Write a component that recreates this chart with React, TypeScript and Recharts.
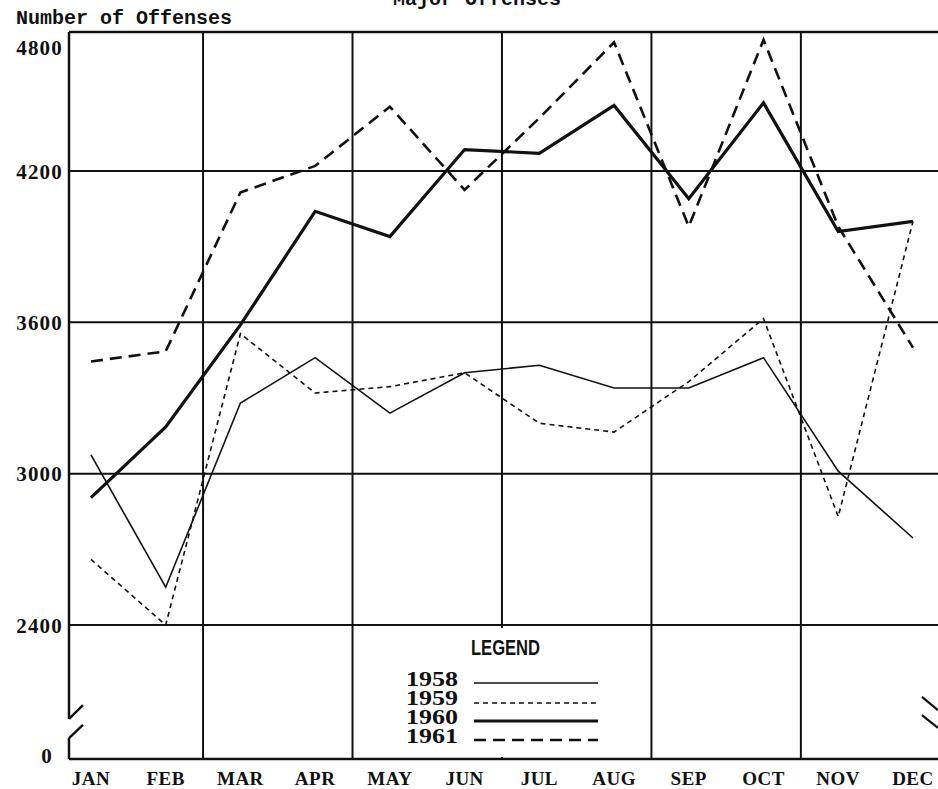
import React from 'react';
import { LineChart, Line, XAxis, YAxis, ReferenceLine, Legend } from 'recharts';

// ---- data ----
const months = ['JAN', 'FEB', 'MAR', 'APR', 'MAY', 'JUN', 'JUL', 'AUG', 'SEP', 'OCT', 'NOV', 'DEC'];
const offenses1958 = [3075, 2550, 3280, 3460, 3240, 3400, 3430, 3340, 3340, 3460, 3010, 2745];
const offenses1959 = [2660, 2400, 3555, 3320, 3345, 3400, 3200, 3165, 3365, 3615, 2830, 4000];
const offenses1960 = [2905, 3185, 3590, 4040, 3940, 4285, 4270, 4460, 4090, 4470, 3960, 4000];
const offenses1961 = [3445, 3485, 4115, 4220, 4455, 4125, 4410, 4710, 3980, 4720, 3980, 3500];

// broken y axis: the bottom of the plot stands for 0
const Y_FLOOR = 1869;
const Y_TOP = 4751;
const yTickValues = [Y_FLOOR, 2400, 3000, 3600, 4200, 4691];
const yTickLabels = ['0', '2400', '3000', '3600', '4200', '4800'];
const yGridValues = [2400, 3000, 3600, 4200];

const X_MIN = -0.294;
const X_MAX = 11.335;
const xDividers = [1.5, 3.5, 5.5, 7.5, 9.5];

const data = months.map((m, i) => ({
  idx: i,
  month: m,
  y1958: offenses1958[i],
  y1959: offenses1959[i],
  y1960: offenses1960[i],
  y1961: offenses1961[i],
}));

const series = [
  { key: 'y1958', name: '1958', width: 1.6, dash: undefined as string | undefined },
  { key: 'y1959', name: '1959', width: 1.6, dash: '5 4' },
  { key: 'y1960', name: '1960', width: 3.2, dash: undefined },
  { key: 'y1961', name: '1961', width: 2.6, dash: '12 7' },
];

const INK = '#111';

const YTick = (props: any) => {
  const { x, y, payload } = props;
  const i = yTickValues.indexOf(payload.value);
  const label = yTickLabels[i] ?? '';
  const isZero = label === '0';
  return (
    <text
      x={isZero ? x - 10 : x}
      y={isZero ? y - 4 : y}
      dy="0.36em"
      textAnchor="end"
      fill={INK}
      style={{ fontFamily: '"Liberation Serif", serif', fontWeight: 700, fontSize: 21, letterSpacing: 1.2 }}
    >
      {label}
    </text>
  );
};

const XTick = (props: any) => {
  const { x, y, payload } = props;
  return (
    <text
      x={x}
      y={y}
      dy={26}
      textAnchor="middle"
      fill={INK}
      style={{ fontFamily: '"Liberation Serif", serif', fontWeight: 700, fontSize: 19, letterSpacing: 0.5 }}
    >
      {months[payload.value]}
    </text>
  );
};

const LegendBox = () => {
  const rowBase = [58, 77, 96, 115];
  const rowLine = [55, 75, 93, 112];
  return (
    <svg width={288} height={129} style={{ display: 'block' }}>
      <rect x={0} y={0} width={288} height={129} fill="#fff" />
      <text
        x={109}
        y={27}
        textLength={69}
        lengthAdjust="spacingAndGlyphs"
        fill={INK}
        style={{ fontFamily: '"Liberation Sans", sans-serif', fontWeight: 700, fontSize: 22 }}
      >
        LEGEND
      </text>
      {series.map((s, i) => (
        <g key={s.key}>
          <text
            x={44}
            y={rowBase[i]}
            textLength={52}
            lengthAdjust="spacingAndGlyphs"
            fill={INK}
            style={{ fontFamily: '"Liberation Serif", serif', fontWeight: 700, fontSize: 20 }}
          >
            {s.name}
          </text>
          <line
            x1={112}
            x2={236}
            y1={rowLine[i]}
            y2={rowLine[i]}
            stroke={INK}
            strokeWidth={s.width}
            strokeDasharray={s.dash}
          />
        </g>
      ))}
    </svg>
  );
};

export default function App() {
  const gridStroke = 2;
  return (
    <div
      style={{
        position: 'absolute',
        left: 0,
        top: 0,
        width: 938,
        height: 789,
        overflow: 'hidden',
        background: '#fff',
      }}
    >
      <svg width={938} height={60} style={{ position: 'absolute', left: 0, top: 0 }}>
        <text
          x={393}
          y={5}
          fill={INK}
          style={{ fontFamily: '"Liberation Mono", monospace', fontWeight: 700, fontSize: 20 }}
        >
          Major Offenses
        </text>
        <text
          x={16}
          y={24}
          fill={INK}
          style={{ fontFamily: '"Liberation Mono", monospace', fontWeight: 700, fontSize: 20 }}
        >
          Number of Offenses
        </text>
      </svg>
      <div style={{ position: 'absolute', left: 0, top: 0 }}>
        <LineChart width={938} height={789} data={data} margin={{ top: 32, right: 0, bottom: 0, left: 0 }}>
          <XAxis
            dataKey="idx"
            type="number"
            domain={[X_MIN, X_MAX]}
            ticks={months.map((_, i) => i)}
            interval={0}
            height={30}
            tickSize={0}
            tickMargin={0}
            tickLine={false}
            axisLine={{ stroke: INK, strokeWidth: 2.5 }}
            tick={<XTick />}
            allowDataOverflow
          />
          <YAxis
            type="number"
            domain={[Y_FLOOR, Y_TOP]}
            ticks={yTickValues}
            interval={0}
            width={69}
            tickSize={0}
            tickMargin={6}
            tickLine={false}
            axisLine={false}
            tick={<YTick />}
            allowDataOverflow
          />
          {yGridValues.map((v) => (
            <ReferenceLine key={'h' + v} y={v} stroke={INK} strokeWidth={gridStroke} ifOverflow="visible" />
          ))}
          <ReferenceLine y={Y_TOP} stroke={INK} strokeWidth={2.5} ifOverflow="visible" />
          {xDividers.map((v) => (
            <ReferenceLine key={'v' + v} x={v} stroke={INK} strokeWidth={gridStroke} ifOverflow="visible" />
          ))}
          {/* left axis with break */}
          <ReferenceLine segment={[{ x: X_MIN, y: 2028 }, { x: X_MIN, y: Y_TOP }]} stroke={INK} strokeWidth={2.5} ifOverflow="visible" />
          <ReferenceLine segment={[{ x: X_MIN, y: Y_FLOOR }, { x: X_MIN, y: 1952 }]} stroke={INK} strokeWidth={2.5} ifOverflow="visible" />
          <ReferenceLine segment={[{ x: X_MIN, y: 2028 }, { x: -0.107, y: 2083 }]} stroke={INK} strokeWidth={2.5} ifOverflow="visible" />
          <ReferenceLine segment={[{ x: X_MIN, y: 1952 }, { x: -0.107, y: 2004 }]} stroke={INK} strokeWidth={2.5} ifOverflow="visible" />
          {/* right break marks */}
          <ReferenceLine segment={[{ x: 11.12, y: 2115 }, { x: X_MAX, y: 2063 }]} stroke={INK} strokeWidth={2.2} ifOverflow="visible" />
          <ReferenceLine segment={[{ x: 11.12, y: 2043 }, { x: X_MAX, y: 1992 }]} stroke={INK} strokeWidth={2.2} ifOverflow="visible" />
          {series.map((s) => (
            <Line
              key={s.key}
              type="linear"
              dataKey={s.key}
              name={s.name}
              stroke={INK}
              strokeWidth={s.width}
              strokeDasharray={s.dash}
              dot={false}
              activeDot={false}
              isAnimationActive={false}
            />
          ))}
          <Legend
            layout="vertical"
            align="center"
            verticalAlign="middle"
            content={<LegendBox />}
            wrapperStyle={{ left: 362, top: 628, width: 288, height: 129, margin: 0 }}
          />
        </LineChart>
      </div>
    </div>
  );
}
